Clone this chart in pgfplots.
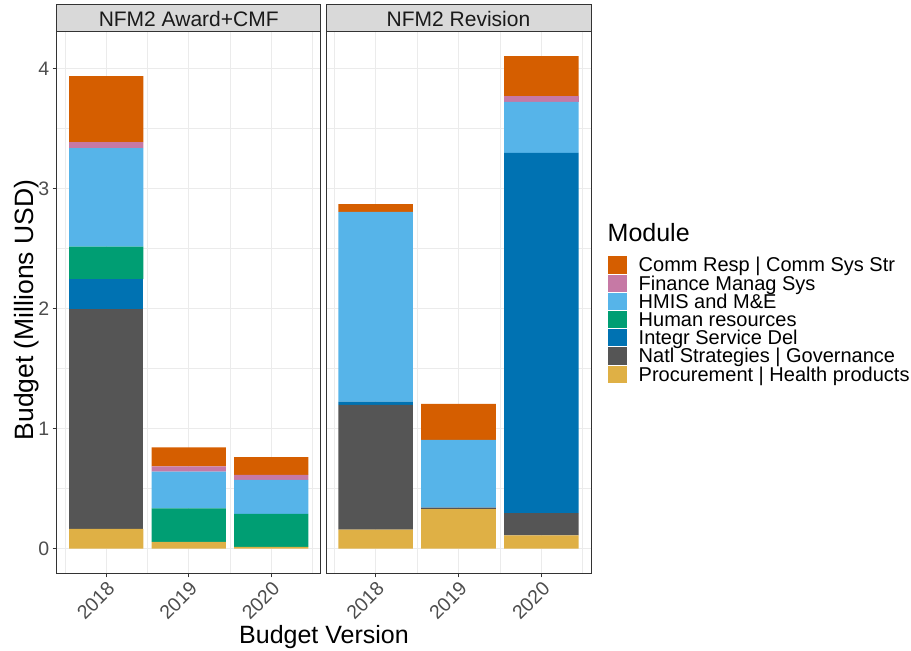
\documentclass[border=0pt]{standalone}
\usepackage{pgfplots}
\pgfplotsset{compat=1.18}
\usepackage{pgfplotstable}
\usepackage{fontspec}
\setmainfont{Liberation Sans}
\definecolor{cComm}{HTML}{D55E00}
\definecolor{cFin}{HTML}{C679A5}
\definecolor{cHMIS}{HTML}{56B4E9}
\definecolor{cHR}{HTML}{009E73}
\definecolor{cInt}{HTML}{0072B2}
\definecolor{cNatl}{HTML}{555555}
\definecolor{cProc}{HTML}{DFB045}
\definecolor{grey92}{HTML}{EBEBEB}
\definecolor{grey85}{HTML}{D9D9D9}
\definecolor{grey20}{HTML}{333333}
\definecolor{grey30}{HTML}{4D4D4D}
\definecolor{grey10}{HTML}{1A1A1A}

\pgfplotstableread{
x proc natl integr hr hmis fin comm
1 0.165 1.83 0.25 0.27 0.82 0.05 0.55
2 0.056 0 0 0.28 0.305 0.044 0.158
3 0.015 0 0 0.275 0.283 0.042 0.147
}\tabA
\pgfplotstableread{
x proc natl integr hr hmis fin comm
1 0.158 1.04 0.027 0 1.58 0 0.064
2 0.33 0.012 0 0 0.565 0 0.30
3 0.11 0.187 3.0 0 0.425 0.05 0.33
}\tabB

\pgfplotsset{panel/.style={
  scale only axis, height=541.3pt, anchor=south west,
  ybar stacked, bar width=0.9,
  xmin=0.4, xmax=3.6, ymin=-0.205, ymax=4.303,
  xtick={1,2,3}, xticklabels={2018,2019,2020},
  minor xtick={0.5,1.5,2.5,3.5},
  ytick={0,1,2,3,4}, minor ytick={0.5,1.5,2.5,3.5},
  grid=both,
  major grid style={color=grey92, line width=1pt},
  minor grid style={color=grey92, line width=0.5pt},
  axis line style={color=grey20, line width=1pt},
  tick align=outside, xtick pos=bottom, ytick pos=left,
  major tick length=4pt, minor tick length=0pt,
  tick style={color=grey20, line width=1pt},
  tick label style={font=\fontsize{19.5}{22}\selectfont, text=grey30},
  xticklabel style={rotate=45, anchor=north east, inner sep=2pt},
  /pgf/number format/assume math mode=true,
}}

\newcommand{\plotall}[1]{%
  \addplot[fill=cProc, draw=none] table[x=x,y=proc]{#1};
  \addplot[fill=cNatl, draw=none] table[x=x,y=natl]{#1};
  \addplot[fill=cInt, draw=none] table[x=x,y=integr]{#1};
  \addplot[fill=cHR, draw=none] table[x=x,y=hr]{#1};
  \addplot[fill=cHMIS, draw=none] table[x=x,y=hmis]{#1};
  \addplot[fill=cFin, draw=none] table[x=x,y=fin]{#1};
  \addplot[fill=cComm, draw=none] table[x=x,y=comm]{#1};
}

\begin{document}
\begin{tikzpicture}
\useasboundingbox (0pt,0pt) rectangle (911pt,651pt);

\begin{axis}[panel, width=264pt, at={(56.7pt,77.7pt)}]
\plotall{\tabA}
\end{axis}

\begin{axis}[panel, width=265pt, at={(326pt,77.7pt)}, yticklabels={}, ytick style={draw=none}]
\plotall{\tabB}
\end{axis}

% strips
\draw[fill=grey85, draw=grey20, line width=1pt] (56.7pt,619pt) rectangle (320.7pt,646pt);
\draw[fill=grey85, draw=grey20, line width=1pt] (326pt,619pt) rectangle (591pt,646pt);
\node[font=\fontsize{21}{23}\selectfont, text=grey10, anchor=center] at (188.7pt,632.5pt) {NFM2 Award+CMF};
\node[font=\fontsize{21}{23}\selectfont, text=grey10, anchor=center] at (458.5pt,632.5pt) {NFM2 Revision};

% axis titles
\node[font=\fontsize{25}{28}\selectfont, anchor=base, inner sep=0pt] at (324pt,7pt) {Budget Version};
\node[font=\fontsize{26.5}{28}\selectfont, anchor=base, rotate=90, inner sep=0pt] at (33pt,341pt) {Budget (Millions USD)};

% legend
\node[font=\fontsize{25}{28}\selectfont, anchor=base west, inner sep=0pt] at (607.5pt,409.3pt) {Module};
\foreach \c/\t [count=\i from 0] in {cComm/{Comm Resp | Comm Sys Str}, cFin/{Finance Manag Sys}, cHMIS/{HMIS and M\&E}, cHR/{Human resources}, cInt/{Integr Service Del}, cNatl/{Natl Strategies | Governance}, cProc/{Procurement | Health products}}{
  \pgfmathsetmacro{\yc}{651-(265.1+18.2*\i)}
  \fill[\c] (608.3pt,\yc pt-8.6pt) rectangle (626.7pt,\yc pt+8.6pt);
  \node[font=\fontsize{20}{22}\selectfont, anchor=base west, inner sep=0pt] at (638.5pt,\yc pt-6.8pt) {\t};
}
\end{tikzpicture}
\end{document}
